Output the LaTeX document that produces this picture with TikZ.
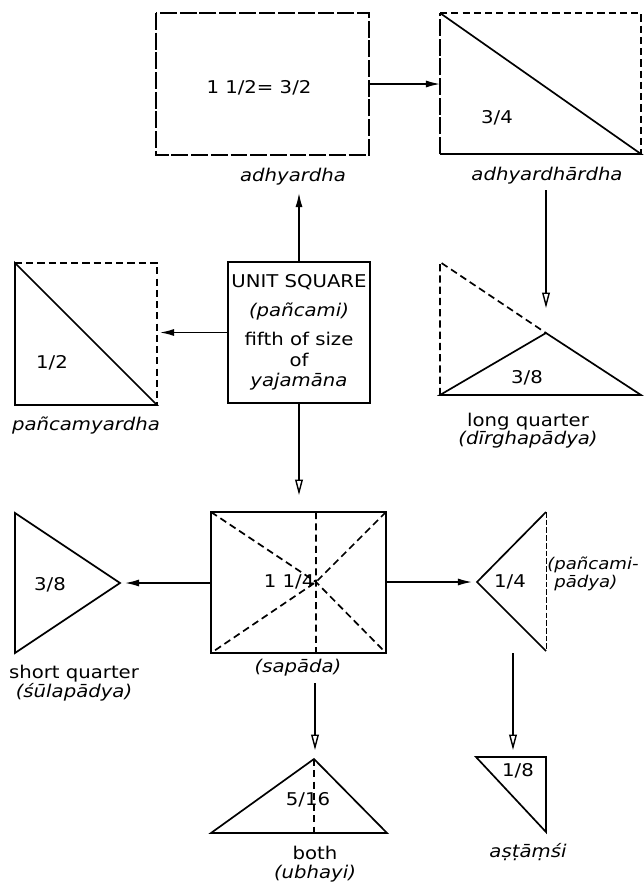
\documentclass[tikz,border=0pt]{standalone}
\usepackage{fontspec}
\setmainfont{DejaVu Sans}[FakeStretch=1.12]
\usetikzlibrary{arrows.meta}

\begin{document}
\begin{tikzpicture}[x=0.025cm, y=-0.025cm,
  line/.style={-{Latex[length=10pt,width=5pt]}, line width=1pt, draw=black},
  lineopen/.style={-{Triangle[open,length=11pt,width=5.5pt]}, line width=1pt, draw=black},
  fig/.style={line width=1.2pt, line join=miter},
  dashedge/.style={fig, dash pattern=on 5pt off 3pt},
  longdash/.style={fig, dash pattern=on 12pt off 2pt},
  thindash/.style={line width=0.6pt, dash pattern=on 4pt off 1.5pt},
  sanskrit/.style={font=\itshape},
  node font=\fontsize{12.5}{14.5}\selectfont]

\useasboundingbox (0,0) rectangle (644,884);

% adhyardha
\draw [longdash] (156,13) rectangle (369,155);
\node (adhValue) at (259,88) {1 1/2= 3/2};
\node [sanskrit] (adhName) at (293,177) {adhyardha};
\coordinate (adhEast) at (369,84);
\coordinate (adhTip) at (299,193);

% adhyardhardha
\draw [dashedge] (440,13) -- (641,13) -- (641,154);
\draw [longdash] (440,154) -- (440,13);
\draw [fig] (440,13) -- (641,154) -- (440,154);
\node (halfAdhValue) at (497,118) {3/4};
\node [sanskrit] (halfAdhName) at (547,176) {adhyardhārdha};
\coordinate (halfAdhWest) at (440,84);
\coordinate (halfAdhTail) at (546,190);

% long quarter
\draw [dashedge] (440,395) -- (440,262) -- (546,333);
\draw [fig] (440,395) -- (546,333) -- (641,395) -- cycle;
\node (longValue) at (527,378) {3/8};
\node [align=center, node font=\fontsize{12.5}{13}\selectfont] (longName) at (528,431)
  {long quarter\\\textit{(dīrghapādya)}};
\coordinate (longTip) at (546,308);

% unit square
\node [draw, fig, minimum width=3.55cm, minimum height=3.525cm, align=center, inner sep=0]
  (unitSquare) at (299,332.5)
  {UNIT SQUARE\\[6pt] \textit{(pañcami)}\\[6pt] fifth of size\\ of\\ \textit{yajamāna}};

% pancamyardha
\draw [dashedge] (15,263) -- (157,263) -- (157,405);
\draw [fig] (157,405) -- (15,405) -- (15,263) -- cycle;
\node (pyValue) at (52,363) {1/2};
\node [sanskrit] (pyName) at (86,425) {pañcamyardha};
\coordinate (pyEast) at (160,332.5);

% sapada
\draw [fig] (211,512) rectangle (386,653);
\coordinate (sapCross) at (316,582);
\draw [dashedge] (211,512) -- (sapCross) -- (386,653)
                 (386,512) -- (sapCross) -- (211,653)
                 (316,512) -- (316,653);
\node [left, inner sep=1pt] (sapValue) at (sapCross) {1 1/4};
\node [sanskrit] (sapName) at (298,668) {(sapāda)};
\coordinate (sapTip) at (299,495);
\coordinate (sapWest) at (211,583);
\coordinate (sapEast) at (386,582);
\coordinate (sapTail) at (315,683);

% short quarter
\draw [fig] (15,513) -- (120,583) -- (15,653) -- cycle;
\node (shortValue) at (50,585) {3/8};
\node [align=center, node font=\fontsize{12.5}{13}\selectfont] (shortName) at (74,683)
  {short quarter\\\textit{(śūlapādya)}};
\coordinate (shortTip) at (125,583);

% pancami-padya
\draw [fig] (546,512) -- (477,582) -- (546,651);
\draw [thindash] (546,512) -- (546,651);
\node (ppValue) at (510,582) {1/4};
\node [sanskrit, align=left, anchor=west, inner sep=0pt,
       node font=\fontsize{11.5}{13}\selectfont] (ppName) at (547,574)
  {(pañcami-\\\phantom{(}pādya)};
\coordinate (ppTip) at (472,582);
\coordinate (ppTail) at (513,653);

% astamsi
\draw [fig] (476,757) -- (546,757) -- (546,832) -- cycle;
\node (astValue) at (518,771) {1/8};
\node [sanskrit] (astName) at (528,852) {aṣṭāṃśi};
\coordinate (astTip) at (513,750);

% both
\draw [fig] (211,833) -- (314,759) -- (387,833) -- cycle;
\draw [dashedge] (314,759) -- (314,833);
\node (bothValue) at (308,800) {5/16};
\node [align=center, node font=\fontsize{12.5}{13}\selectfont] (bothName) at (315,864)
  {both\\\textit{(ubhayi)}};
\coordinate (bothTip) at (315,750);

\draw [line]     (unitSquare.north) -- (adhTip);
\draw [line]     (adhEast)          -- (halfAdhWest);
\draw [lineopen] (halfAdhTail)      -- (longTip);
\draw [line]     (unitSquare.west)  -- (pyEast);
\draw [lineopen] (unitSquare.south) -- (sapTip);
\draw [line]     (sapWest)          -- (shortTip);
\draw [line]     (sapEast)          -- (ppTip);
\draw [lineopen] (sapTail)          -- (bothTip);
\draw [lineopen] (ppTail)           -- (astTip);
\end{tikzpicture}
\end{document}
